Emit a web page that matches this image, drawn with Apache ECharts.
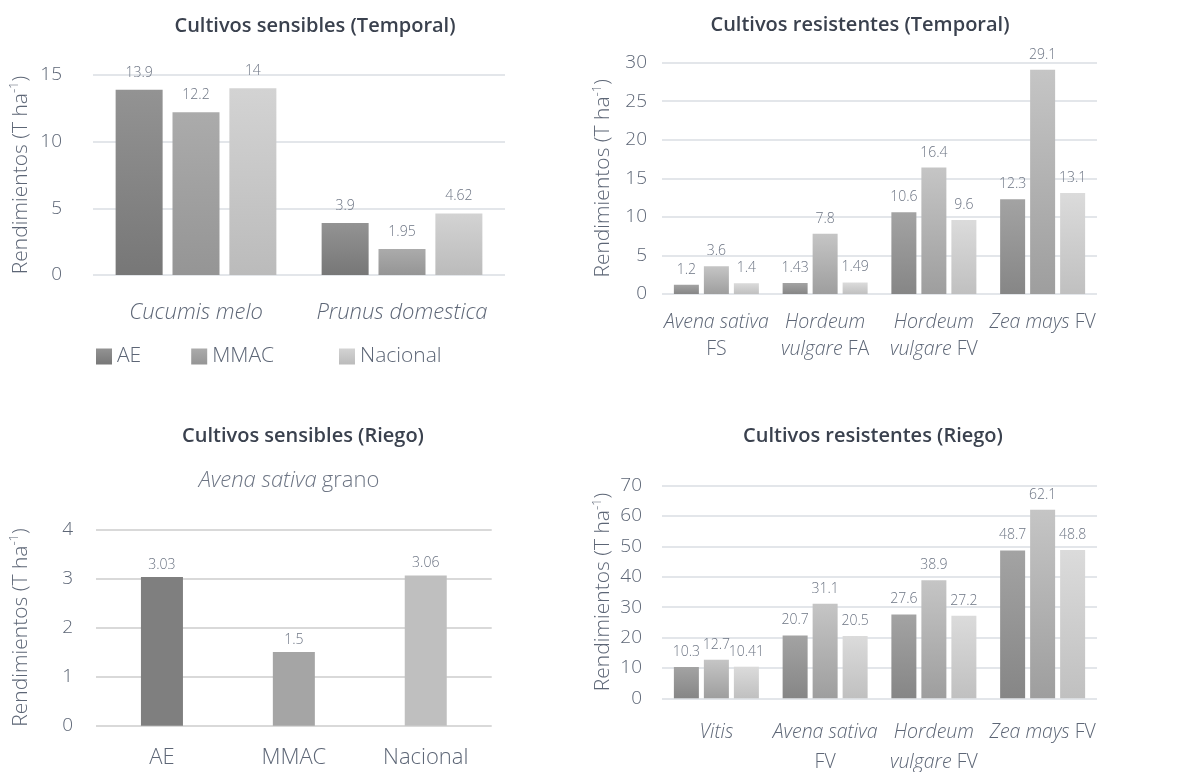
<!DOCTYPE html>
<html>
<head>
<meta charset="utf-8">
<script src="https://cdn.jsdelivr.net/npm/echarts@6/dist/echarts.min.js"></script>
<style>
html,body{margin:0;padding:0;background:#fff;}
#c{width:1184px;height:772px;}
</style>
</head>
<body>
<div id="c"></div>
<script>
// ---- data ----
const seriesNames = ['AE', 'MMAC', 'Nacional'];

const titles = ['Cultivos sensibles (Temporal)', 'Cultivos resistentes (Temporal)', 'Cultivos sensibles (Riego)', 'Cultivos resistentes (Riego)'];
const subtitle3 = ['Avena sativa', 'grano'];
const yName = ['Rendimientos (T ha', '-1', ')'];

const cats1 = ['Cucumis melo', 'Prunus domestica'];
const ae1 = [13.9, 3.9];
const mmac1 = [12.2, 1.95];
const nac1 = [14, 4.62];

const cats2 = ['Avena sativa\nFS', 'Hordeum\nvulgare FA', 'Hordeum\nvulgare FV', 'Zea mays FV'];
const ae2 = [1.2, 1.43, 10.6, 12.3];
const mmac2 = [3.6, 7.8, 16.4, 29.1];
const nac2 = [1.4, 1.49, 9.6, 13.1];

const cats3 = ['AE', 'MMAC', 'Nacional'];
const vals3 = [3.03, 1.5, 3.06];

const cats4 = ['Vitis', 'Avena sativa\nFV', 'Hordeum\nvulgare FV', 'Zea mays FV'];
const ae4 = [10.3, 20.7, 27.6, 48.7];
const mmac4 = [12.7, 31.1, 38.9, 62.1];
const nac4 = [10.41, 20.5, 27.2, 48.8];

// ---- styling ----
const FONT = '"Open Sans", Lato, sans-serif';
const W = 300;
const TXT = '#5d6676';
const LBL = '#6d7584';
const TITLE = '#3a414e';
const GRID = '#e3e6ea';

function grad(top, bottom) {
  return new echarts.graphic.LinearGradient(0, 0, 0, 1, [
    { offset: 0, color: top }, { offset: 1, color: bottom }
  ]);
}
const pal1 = [grad('#939393', '#777777'), grad('#ababab', '#959595'), grad('#d3d3d3', '#bbbbbb')];
const pal2 = [grad('#a3a3a3', '#868686'), grad('#c5c5c5', '#9e9e9e'), grad('#dbdbdb', '#c0c0c0')];
const flat3 = ['#7f7f7f', '#a5a5a5', '#bfbfbf'];

function catFmt(v) {
  return v.split('\n').map(line =>
    line.split(' ').map(w => /^F[SAV]$/.test(w) ? '{n|' + w + '}' : '{i|' + w + '}').join('{i| }')
  ).join('\n');
}

const yNameRich = {
  a: { fontFamily: FONT, fontWeight: W, fontSize: 21, color: TXT, lineHeight: 26 },
  s: { fontFamily: FONT, fontWeight: W, fontSize: 13, color: TXT, lineHeight: 26, verticalAlign: 'top' }
};
const yNameStr = '{a|' + yName[0] + '}{s|' + yName[1] + '}{a|' + yName[2] + '}';

function yAxis(gi, max, interval, gap, margin, gridColor) {
  return {
    type: 'value', gridIndex: gi, min: 0, max: max, interval: interval,
    name: yNameStr, nameLocation: 'middle', nameGap: gap, nameRotate: 90,
    nameTextStyle: { rich: yNameRich },
    axisLine: { show: false }, axisTick: { show: false },
    axisLabel: { fontFamily: FONT, fontWeight: W, fontSize: 19, color: TXT, margin: margin },
    splitLine: { lineStyle: { color: gridColor, width: 2 } }
  };
}
function xAxis(gi, data, margin, fs, lh, rich) {
  const a = {
    type: 'category', gridIndex: gi, data: data,
    axisLine: { show: false }, axisTick: { show: false },
    axisLabel: { interval: 0, margin: margin, fontFamily: FONT, fontWeight: W, fontSize: fs, color: TXT, lineHeight: lh }
  };
  if (rich) {
    a.axisLabel.formatter = catFmt;
    a.axisLabel.rich = {
      i: { fontFamily: FONT, fontWeight: W, fontStyle: 'italic', fontSize: fs, color: TXT, lineHeight: lh },
      n: { fontFamily: FONT, fontWeight: W, fontSize: fs, color: TXT, lineHeight: lh }
    };
  }
  return a;
}
function dataLabel(dist) {
  return { show: true, position: 'top', distance: dist, fontFamily: FONT, fontWeight: W, fontSize: 14, color: LBL };
}
function bars(gi, arrs, pal, bw, gap, dist) {
  return arrs.map((d, k) => ({
    type: 'bar', name: seriesNames[k], xAxisIndex: gi, yAxisIndex: gi,
    data: d, barWidth: bw, barGap: gap,
    itemStyle: { color: pal[k] },
    label: dataLabel(dist)
  }));
}
function title(text, cx, top) {
  return {
    text: text, left: cx, top: top, textAlign: 'center',
    textStyle: { fontFamily: FONT, fontWeight: 600, fontSize: 20, color: TITLE }
  };
}
function grid(l, t, w, h) {
  return { left: l, top: t, width: w, height: h, containLabel: false, outerBoundsMode: 'none' };
}
function legend(names, left) {
  return {
    data: names, left: left, top: 341, itemWidth: 16, itemHeight: 16, itemGap: 50, icon: 'rect',
    textStyle: { fontFamily: FONT, fontWeight: W, fontSize: 21, color: TXT }
  };
}

const option = {
  backgroundColor: '#fff',
  animation: false,
  title: [
    title(titles[0], 310, 11),
    title(titles[1], 855, 10),
    title(titles[2], 298, 421),
    title(titles[3], 868, 421),
    {
      text: '{i|' + subtitle3[0] + '} {n|' + subtitle3[1] + '}', left: 284, top: 465, textAlign: 'center',
      textStyle: { rich: {
        i: { fontFamily: FONT, fontWeight: W, fontStyle: 'italic', fontSize: 22, color: LBL },
        n: { fontFamily: FONT, fontWeight: W, fontSize: 22, color: LBL }
      } }
    }
  ],
  legend: [
    legend(seriesNames.slice(0, 2), 91),
    legend(seriesNames.slice(2), 334)
  ],
  grid: [
    grid(93, 75, 412, 200),
    grid(662, 62.7, 435, 231.3),
    grid(96, 529.3, 395.7, 196.4),
    grid(662, 485.7, 435, 212.6)
  ],
  xAxis: [
    xAxis(0, cats1, 24, 22, 28, true),
    xAxis(1, cats2, 15.5, 19.5, 26.6, true),
    xAxis(2, cats3, 18.5, 22, 28, false),
    xAxis(3, cats4, 19, 19.5, 30, true)
  ],
  yAxis: [
    yAxis(0, 15, 5, 59, 31, GRID),
    yAxis(1, 30, 5, 45.5, 15, GRID),
    yAxis(2, 4, 1, 62, 23, '#d9d9d9'),
    yAxis(3, 70, 10, 45.5, 20, GRID)
  ],
  series: [].concat(
    bars(0, [ae1, mmac1, nac1], pal1, 47, '21%', 10),
    bars(1, [ae2, mmac2, nac2], pal2, 25, '20%', 8),
    [{
      type: 'bar', name: 'Avena sativa grano', xAxisIndex: 2, yAxisIndex: 2, barWidth: 42,
      data: vals3.map((v, k) => ({ value: v, itemStyle: { color: flat3[k] } })),
      label: dataLabel(5)
    }],
    bars(3, [ae4, mmac4, nac4], pal2, 25, '20%', 8)
  )
};

const chart = echarts.init(document.getElementById('c'), null, { renderer: 'canvas' });
chart.setOption(option);
</script>
</body>
</html>
